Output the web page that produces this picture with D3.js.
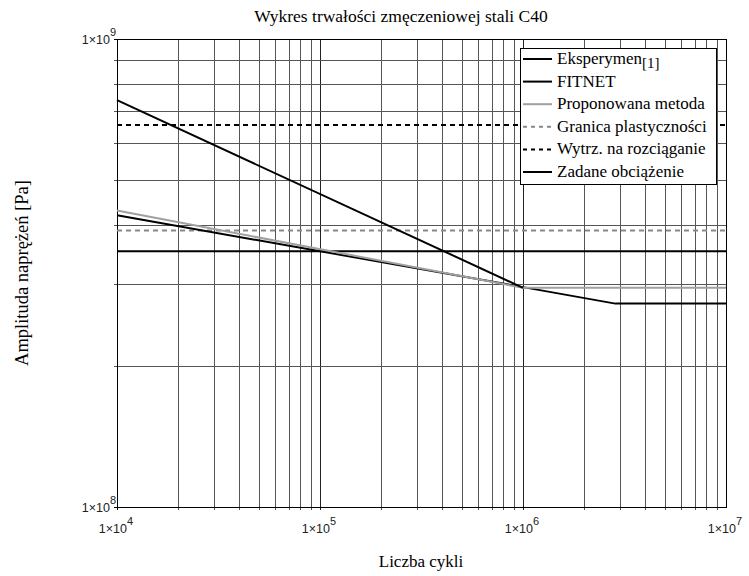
<!DOCTYPE html>
<html><head><meta charset="utf-8">
<script src="https://cdn.jsdelivr.net/npm/d3@7"></script>
<style>body{margin:0;background:#fff}svg{display:block}</style>
</head><body>
<script>
const titleText = "Wykres trwałości zmęczeniowej stali C40";
const xLabel = "Liczba cykli";
const yLabel = "Amplituda naprężeń [Pa]";
const xTickExps = [4, 5, 6, 7];
const yTickExps = [8, 9];
// series
const eksN = [1e4, 1e6];
const eksS = [7.4e8, 2.94e8];
const fitN = [1e4, 1e6, 2.85e6, 1e7];
const fitS = [4.2e8, 2.95e8, 2.72e8, 2.72e8];
const propN = [1e4, 1e6, 1e7];
const propS = [4.3e8, 2.94e8, 2.94e8];
const granica = 3.9e8;
const wytrz = 6.55e8;
const zadane = 3.52e8;
const legendLabels = ["Eksperymen", "FITNET", "Proponowana metoda", "Granica plastyczności", "Wytrz. na rozciąganie", "Zadane obciążenie"];

const W = 749, H = 576;
const m = {l: 117, r: 726, t: 39, b: 507};
const svg = d3.select("body").append("svg").attr("width", W).attr("height", H);
const x = d3.scaleLog().domain([1e4, 1e7]).range([m.l, m.r]);
const y = d3.scaleLog().domain([1e8, 1e9]).range([m.b, m.t]);

// grid
const xGrid = [];
for (let e = 4; e < 7; e++) for (let k = 1; k <= 9; k++) xGrid.push(k * Math.pow(10, e));
const yGrid = [];
for (let k = 2; k <= 9; k++) yGrid.push(k * 1e8);
const g = svg.append("g");
g.selectAll(".vx").data(xGrid.filter(v => v > 1e4)).enter().append("line")
  .attr("x1", d => Math.round(x(d)) + 0.5).attr("x2", d => Math.round(x(d)) + 0.5)
  .attr("y1", m.t).attr("y2", m.b + 3)
  .attr("stroke", d => (Math.abs(Math.log10(d) % 1) < 1e-9) ? "#222" : "#555").attr("stroke-width", 1);
g.selectAll(".hy").data(yGrid).enter().append("line")
  .attr("y1", d => Math.round(y(d)) + 0.5).attr("y2", d => Math.round(y(d)) + 0.5)
  .attr("x1", m.l - 3).attr("x2", m.r)
  .attr("stroke", "#555").attr("stroke-width", 1);
// frame
svg.append("rect").attr("x", m.l + 0.5).attr("y", m.t + 0.5).attr("width", m.r - m.l).attr("height", m.b - m.t)
  .attr("fill", "none").attr("stroke", "#000").attr("stroke-width", 1);
svg.append("line").attr("x1", m.l + 0.5).attr("x2", m.l + 0.5).attr("y1", m.t).attr("y2", m.b + 3).attr("stroke", "#000");
svg.append("line").attr("x1", m.l - 3).attr("x2", m.l).attr("y1", m.t + 0.5).attr("y2", m.t + 0.5).attr("stroke", "#000");
svg.append("line").attr("x1", m.l - 3).attr("x2", m.l).attr("y1", m.b + 0.5).attr("y2", m.b + 0.5).attr("stroke", "#000");

// lines
const line = d3.line().x(d => x(d[0])).y(d => y(d[1]));
const hline = (v, color, dash, w) => svg.append("path")
  .attr("d", line([[1e4, v], [1e7, v]])).attr("fill", "none").attr("stroke", color)
  .attr("stroke-width", w).attr("stroke-dasharray", dash);
hline(wytrz, "#000", "5,4", 2);
hline(granica, "#888", "5,4", 2);
hline(zadane, "#000", null, 2);
svg.append("path").attr("d", line(fitN.map((n, i) => [n, fitS[i]]))).attr("fill", "none").attr("stroke", "#000").attr("stroke-width", 2);
svg.append("path").attr("d", line(propN.map((n, i) => [n, propS[i]]))).attr("fill", "none").attr("stroke", "#a0a0a0").attr("stroke-width", 2);
svg.append("path").attr("d", line(eksN.map((n, i) => [n, eksS[i]]))).attr("fill", "none").attr("stroke", "#000").attr("stroke-width", 2);

// tick labels
const sans = "'Liberation Sans', Arial, sans-serif";
const serif = "'Liberation Serif', 'Times New Roman', serif";
xTickExps.forEach(e => {
  const t = svg.append("text").attr("x", x(Math.pow(10, e)) - 1).attr("y", 533).attr("text-anchor", "middle")
    .attr("font-family", sans).attr("font-size", 12.5).attr("fill", "#222");
  t.append("tspan").text("1×10");
  t.append("tspan").text(e).attr("font-size", 11).attr("dy", -8);
});
yTickExps.forEach(e => {
  const t = svg.append("text").attr("x", m.l - 1).attr("y", y(Math.pow(10, e)) + 5).attr("text-anchor", "end")
    .attr("font-family", sans).attr("font-size", 12.5).attr("fill", "#222");
  t.append("tspan").text("1×10");
  t.append("tspan").text(e).attr("font-size", 11).attr("dy", -8);
});

// title & axis labels
svg.append("text").attr("x", 401).attr("y", 22).attr("text-anchor", "middle")
  .attr("font-family", serif).attr("font-size", 17.5).text(titleText);
svg.append("text").attr("x", 421).attr("y", 567).attr("text-anchor", "middle")
  .attr("font-family", serif).attr("font-size", 17).text(xLabel);
svg.append("text").attr("transform", "translate(28,273) rotate(-90)").attr("text-anchor", "middle")
  .attr("font-family", serif).attr("font-size", 18.5).text(yLabel);

// legend
const lg = svg.append("g");
lg.append("rect").attr("x", 520.5).attr("y", 48.5).attr("width", 196).attr("height", 136)
  .attr("fill", "#fff").attr("stroke", "#000");
const legStyles = [
  {c: "#000", d: null}, {c: "#000", d: null}, {c: "#a0a0a0", d: null},
  {c: "#888", d: "4,4"}, {c: "#000", d: "4,4"}, {c: "#000", d: null}
];
legendLabels.forEach((lab, i) => {
  const cy = 59 + i * 22.6;
  lg.append("line").attr("x1", 523).attr("x2", 552).attr("y1", cy).attr("y2", cy)
    .attr("stroke", legStyles[i].c).attr("stroke-width", 2).attr("stroke-dasharray", legStyles[i].d);
  const t = lg.append("text").attr("x", 557).attr("y", cy + 5).attr("font-family", serif).attr("font-size", 17);
  t.append("tspan").text(lab);
  if (i === 0) t.append("tspan").text("[1]").attr("font-size", 15).attr("dy", 4);
});
</script>
</body></html>
